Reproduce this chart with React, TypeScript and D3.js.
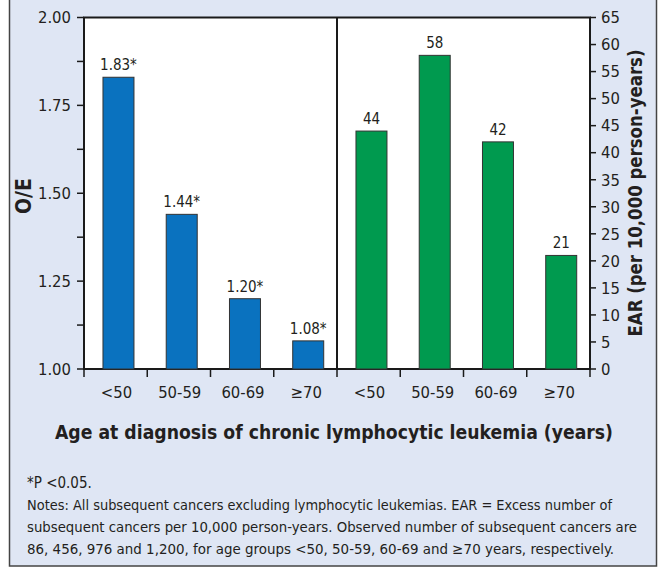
import React from 'react';
import * as d3 from 'd3';

// chart data
const ageGroups = ['<50', '50-59', '60-69', '≥70'];
const oeValues = [1.83, 1.44, 1.2, 1.08];
const oeLabels = ['1.83*', '1.44*', '1.20*', '1.08*'];
const earValues = [44, 58, 42, 21];
const oeTicks = [1.0, 1.25, 1.5, 1.75, 2.0];
const oeMinorTicks = [1.125, 1.375, 1.625, 1.875];
const earTicks = d3.range(0, 66, 5);
const noteLines = [
  'Notes: All subsequent cancers excluding lymphocytic leukemias. EAR = Excess number of',
  'subsequent cancers per 10,000 person-years. Observed number of subsequent cancers are',
  '86, 456, 976 and 1,200, for age groups <50, 50-59, 60-69 and ≥70 years, respectively.',
];
const noteWidths = [585, 610, 587];

const FONT = '"Liberation Sans Narrow", "DejaVu Sans Condensed", "Roboto Condensed", "Arial Narrow", sans-serif';
const BG = '#dfe6f4';
const BLUE = '#0a72bf';
const GREEN = '#009a4f';
const TEXT = '#231f20';

const W = 659;
const H = 571;
const plot = { left: 84, mid: 337, right: 590, top: 17.5, bottom: 369 };

const App = () => {
  const yOE = d3.scaleLinear().domain([1, 2]).range([plot.bottom, plot.top]);
  const yEAR = d3.scaleLinear().domain([0, 65]).range([plot.bottom, plot.top]);
  const xL = d3.scaleBand().domain(ageGroups).range([plot.left, plot.mid]).padding(0);
  const xR = d3.scaleBand().domain(ageGroups).range([plot.mid, plot.right]).padding(0);

  const barOff = (x) => x.bandwidth() * 0.3;
  const barW = (x) => x.bandwidth() * 0.49;

  const panel = (x, values, y, base, color, labels) =>
    ageGroups.map((g, i) => {
      const bx = x(g) + barOff(x);
      const by = y(values[i]);
      return (
        <g key={g}>
          <rect x={bx} y={by} width={barW(x)} height={y(base) - by}
            fill={color} stroke="#333" strokeWidth={1} />
          <text x={bx + barW(x) / 2} y={by - 7} textAnchor="middle" fontSize={15} fill={TEXT}>
            {labels[i]}
          </text>
          <text x={bx + barW(x) / 2 - 2} y={398} textAnchor="middle" fontSize={16.5} fill={TEXT}>
            {g}
          </text>
        </g>
      );
    });

  const bottomTicks = [...ageGroups.map((g) => xL(g)), ...ageGroups.map((g) => xR(g)), plot.right];

  return (
    <svg width={W} height={H} style={{ position: 'absolute', left: 0, top: 0 }}
      fontFamily={FONT} fontStretch="condensed">
      <rect x={0} y={0} width={W} height={H} fill="#fff" />
      <rect x={9.5} y={-2} width={647} height={568} fill={BG} stroke="#444" strokeWidth={1.5} />

      {/* plot area */}
      <rect x={plot.left} y={plot.top} width={plot.right - plot.left} height={plot.bottom - plot.top}
        fill="#fff" stroke="#1a1a1a" strokeWidth={2} />
      <line x1={plot.mid} x2={plot.mid} y1={plot.top} y2={plot.bottom} stroke="#1a1a1a" strokeWidth={2} />

      {panel(xL, oeValues, yOE, 1, BLUE, oeLabels)}
      {panel(xR, earValues, yEAR, 0, GREEN, earValues.map(String))}

      {/* left axis */}
      {oeTicks.map((t) => (
        <g key={t}>
          <line x1={plot.left - 7} x2={plot.left} y1={yOE(t)} y2={yOE(t)} stroke="#1a1a1a" strokeWidth={1.5} />
          <text x={plot.left - 13} y={yOE(t)} dy="0.35em" textAnchor="end" fontSize={16.5} fill={TEXT}>
            {t.toFixed(2)}
          </text>
        </g>
      ))}
      {oeMinorTicks.map((t) => (
        <line key={t} x1={plot.left - 7} x2={plot.left} y1={yOE(t)} y2={yOE(t)} stroke="#1a1a1a" strokeWidth={1.5} />
      ))}

      {/* right axis */}
      {earTicks.map((t) => (
        <g key={t}>
          <line x1={plot.right} x2={plot.right + 6} y1={yEAR(t)} y2={yEAR(t)} stroke="#1a1a1a" strokeWidth={1.5} />
          <text x={plot.right + 11} y={yEAR(t)} dy="0.35em" textAnchor="start" fontSize={16.5} fill={TEXT}>
            {t}
          </text>
        </g>
      ))}

      {/* bottom ticks */}
      {bottomTicks.map((x, i) => (
        <line key={i} x1={x} x2={x} y1={plot.bottom} y2={plot.bottom + 8} stroke="#1a1a1a" strokeWidth={1.5} />
      ))}

      {/* axis titles */}
      <text transform="translate(31,196) rotate(-90)" textAnchor="middle" fontSize={21}
        fontWeight="bold" fill={TEXT}>O/E</text>
      <text transform="translate(642,193) rotate(-90)" textAnchor="middle" fontSize={20}
        fontWeight="bold" fill={TEXT} textLength={287} lengthAdjust="spacingAndGlyphs">
        EAR (per 10,000 person-years)
      </text>
      <text x={334} y={439} textAnchor="middle" fontSize={19.5} fontWeight="bold" fill={TEXT}
        textLength={558} lengthAdjust="spacingAndGlyphs">
        Age at diagnosis of chronic lymphocytic leukemia (years)
      </text>

      {/* footnotes */}
      <text x={27} y={488} fontSize={15} fill={TEXT}>*P &lt;0.05.</text>
      {noteLines.map((l, i) => (
        <text key={i} x={27} y={510 + i * 22} fontSize={14.5} fill={TEXT}
          textLength={noteWidths[i]} lengthAdjust="spacingAndGlyphs">{l}</text>
      ))}
    </svg>
  );
};

export default App;
